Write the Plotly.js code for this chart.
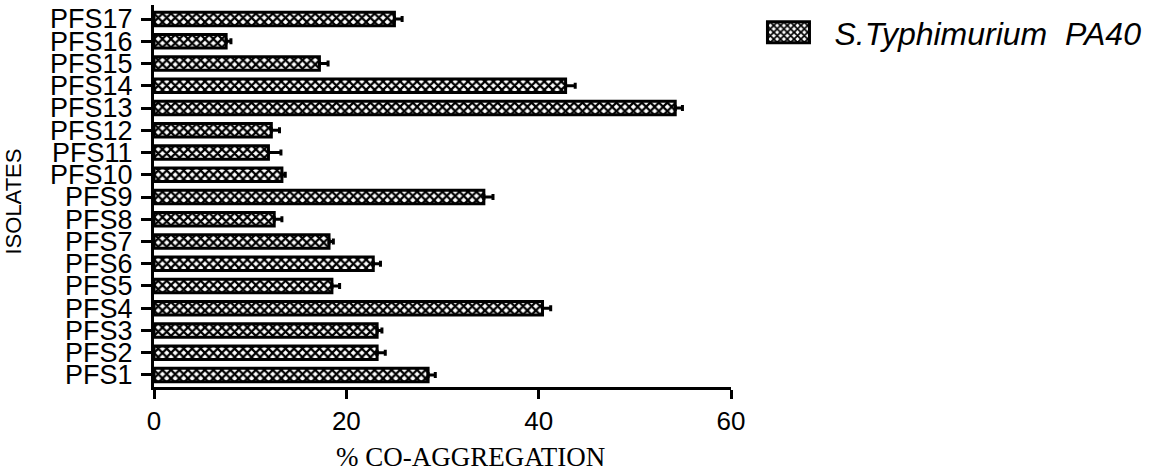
<!DOCTYPE html>
<html>
<head>
<meta charset="utf-8">
<script src="https://cdn.plot.ly/plotly-3.0.1.min.js"></script>
<style>
  html, body { margin: 0; padding: 0; background: #fff; }
  #chart { width: 1152px; height: 472px; }
</style>
</head>
<body>
<div id="chart"></div>
<script>
// ---- data ----
const isolates = ["PFS1","PFS2","PFS3","PFS4","PFS5","PFS6","PFS7","PFS8","PFS9",
                  "PFS10","PFS11","PFS12","PFS13","PFS14","PFS15","PFS16","PFS17"];
const coAggregation = [28.5, 23.2, 23.2, 40.4, 18.5, 22.8, 18.2, 12.5, 34.3,
                       13.3, 11.9, 12.2, 54.2, 42.8, 17.2, 7.5, 25.0];
const errorPlus = [0.75, 0.85, 0.5, 0.85, 0.8, 0.75, 0.45, 0.8, 0.95,
                   0.35, 1.3, 0.85, 0.75, 1.0, 0.9, 0.5, 0.8];
const seriesName = "S.Typhimurium\u00a0\u00a0PA40";
const xTicks = [0, 20, 40, 60];
const xTitle = "% CO-AGGREGATION";
const yTitle = "ISOLATES";

const trace = {
  type: "bar",
  orientation: "h",
  y: isolates,
  x: coAggregation,
  name: seriesName,
  width: 0.6,
  marker: {
    color: "#ffffff",
    line: { color: "#000000", width: 3 },
    pattern: { shape: "x", size: 6, solidity: 0.6, fgcolor: "#000000", bgcolor: "#ffffff", fillmode: "replace" }
  },
  error_x: {
    type: "data", symmetric: false,
    array: errorPlus,
    arrayminus: errorPlus.map(() => 0),
    color: "#000000", thickness: 3, width: 3
  },
  showlegend: true,
  hoverinfo: "x+y"
};

const layout = {
  width: 1152, height: 472,
  margin: { l: 154, r: 421, t: 5, b: 85, pad: 0 },
  paper_bgcolor: "#ffffff", plot_bgcolor: "#ffffff",
  font: { family: "Liberation Sans, Arial, sans-serif", color: "#000000" },
  showlegend: true,
  legend: {
    x: 1.11, xanchor: "left", y: 1.0, yanchor: "top",
    font: { family: "Liberation Sans, Arial, sans-serif", size: 32, style: "italic", color: "#000" },
    bgcolor: "rgba(0,0,0,0)", borderwidth: 0
  },
  xaxis: {
    range: [0, 60], tickmode: "array", tickvals: xTicks, ticktext: xTicks.map(String),
    showline: true, linecolor: "#000", linewidth: 3,
    ticks: "outside", ticklen: 9, tickwidth: 3, tickcolor: "#000",
    showgrid: false, zeroline: false,
    tickfont: { size: 26, color: "#000" }
  },
  yaxis: {
    type: "category", categoryorder: "array", categoryarray: isolates,
    tickmode: "array", tickvals: isolates, ticktext: isolates,
    range: [-0.54, 16.63],
    showline: true, linecolor: "#000", linewidth: 3,
    ticks: "outside", ticklen: 10, tickwidth: 3, tickcolor: "#000",
    ticklabelstandoff: 3,
    showgrid: false, zeroline: false,
    tickfont: { size: 27, color: "#000" }
  },
  annotations: [
    { text: yTitle, xref: "paper", yref: "paper", x: -0.243, y: 0.485,
      xanchor: "center", yanchor: "middle", textangle: -90, showarrow: false,
      font: { family: "Liberation Sans, Arial, sans-serif", size: 22, color: "#000" } },
    { text: xTitle, xref: "paper", yref: "paper", x: 0.548, y: -0.183,
      xanchor: "center", yanchor: "middle", showarrow: false,
      font: { family: "Liberation Serif, Times New Roman, serif", size: 27, color: "#000" } }
  ]
};

Plotly.newPlot("chart", [trace], layout, { displayModeBar: false, staticPlot: true }).then(function () {
  document.querySelectorAll(".legend [clip-path]").forEach(function (el) {
    el.removeAttribute("clip-path");
  });
  document.querySelectorAll(".legend .legendpoints path").forEach(function (p) {
    p.setAttribute("d", "M-5,10.5H-47V-10.5H-5Z");
  });
});
</script>
</body>
</html>
